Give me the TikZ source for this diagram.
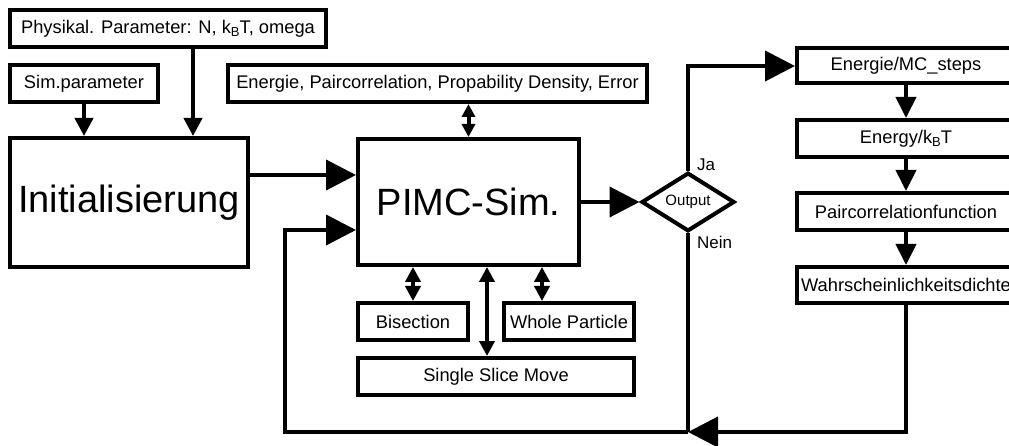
\documentclass[tikz,border=0pt]{standalone}
\usepackage{fontspec}
\setmainfont{Liberation Sans}
\usetikzlibrary{arrows.meta,shapes.geometric}
\newcommand{\mysub}[1]{\raisebox{-0.3ex}{\fontsize{13}{14}\selectfont #1}}
\begin{document}
\begin{tikzpicture}[x=1pt,y=-1pt,
  box/.style={draw,line width=4pt,rectangle,inner sep=0pt,font=\fontsize{18.3}{20}\selectfont,fill=white},
  ln/.style={line width=4pt},
  arrbig/.style={ln,-{Triangle[length=30pt,width=30pt]}},
  arrmid/.style={ln,-{Triangle[length=18pt,width=18pt]}},
  arrcol/.style={ln,-{Triangle[length=21pt,width=20pt]}},
  dbls/.style={ln,{Triangle[length=13pt,width=13pt]}-{Triangle[length=13pt,width=13pt]}},
  dblb/.style={ln,{Triangle[length=15pt,width=15pt]}-{Triangle[length=15pt,width=15pt]}},
  lbl/.style={font=\fontsize{17}{19}\selectfont,inner sep=0pt,anchor=west}
]
\useasboundingbox (0,0) rectangle (1009,446);
% boxes
\node[box,minimum width=316pt,minimum height=37pt] (phys) at (168,28.5) {Physikal. Parameter: N, k\mysub{B}T, omega};
\node[box,minimum width=148pt,minimum height=37pt] (simp) at (84,83.5) {Sim.parameter};
\node[box,minimum width=238pt,minimum height=129pt,font=\fontsize{38}{40}\selectfont] (init) at (129,202.5) {Initialisierung};
\node[box,minimum width=221pt,minimum height=126pt,font=\fontsize{38}{40}\selectfont] (pimc) at (468.5,202) {PIMC-Sim.};
\node[box,minimum width=419pt,minimum height=37pt] (energ) at (437.5,83.5) {Energie, Paircorrelation, Propability Density, Error};
\node[draw,line width=4pt,diamond,inner sep=0pt,minimum width=93pt,minimum height=55pt,font=\fontsize{15}{17}\selectfont] (dia) at (688,202) {Output};
\node[box,minimum width=218pt,minimum height=35pt] (em) at (906,66) {Energie/MC\_steps};
\node[box,minimum width=218pt,minimum height=37pt] (ek) at (906,138.5) {Energy/k\mysub{B}T};
\node[box,minimum width=218pt,minimum height=37pt] (pc) at (906,211.5) {Paircorrelationfunction};
\node[box,minimum width=218pt,minimum height=36pt] (wd) at (906,285) {Wahrscheinlichkeitsdichte};
\node[box,minimum width=110pt,minimum height=37pt] (bis) at (413,321.5) {Bisection};
\node[box,minimum width=130pt,minimum height=37pt] (wp) at (569,321.5) {Whole Particle};
\node[box,minimum width=276pt,minimum height=37pt] (ssm) at (496,376.5) {Single Slice Move};
\node[lbl] (ja) at (697,165) {Ja};
\node[lbl] (nein) at (697,242) {Nein};
% helper coordinates
\coordinate (px) at (193,0);
\coordinate (y1) at (0,175);
\coordinate (fb) at (285,230);
\coordinate (yb) at (0,432);
\coordinate (wpx) at (542,0);
\coordinate (ssx) at (487,0);
\coordinate (j) at (dia.south |- yb);
% connectors
\draw[arrmid] (phys.south -| px) -- (init.north -| px);
\draw[arrmid] (simp.south) -- (init.north -| simp);
\draw[arrbig] (init.east |- y1) -- (pimc.west |- y1);
\draw[arrbig] (pimc.east |- dia) -- (dia.west);
\draw[arrbig] (dia.north) |- (em.west);
\draw[ln] (dia.south) -- (j);
\draw[arrbig] (wd.south) |- (j);
\draw[arrbig] (j) -| (fb) -- (pimc.west |- fb);
\draw[arrcol] (em) -- (ek);
\draw[arrcol] (ek) -- (pc);
\draw[arrcol] (pc) -- (wd);
\draw[dbls] (energ.south -| pimc) -- (pimc.north);
\draw[dblb] (pimc.south -| bis) -- (bis.north);
\draw[dblb] (pimc.south -| wpx) -- (wp.north -| wpx);
\draw[dblb] (pimc.south -| ssx) -- (ssm.north -| ssx);
\end{tikzpicture}
\end{document}
